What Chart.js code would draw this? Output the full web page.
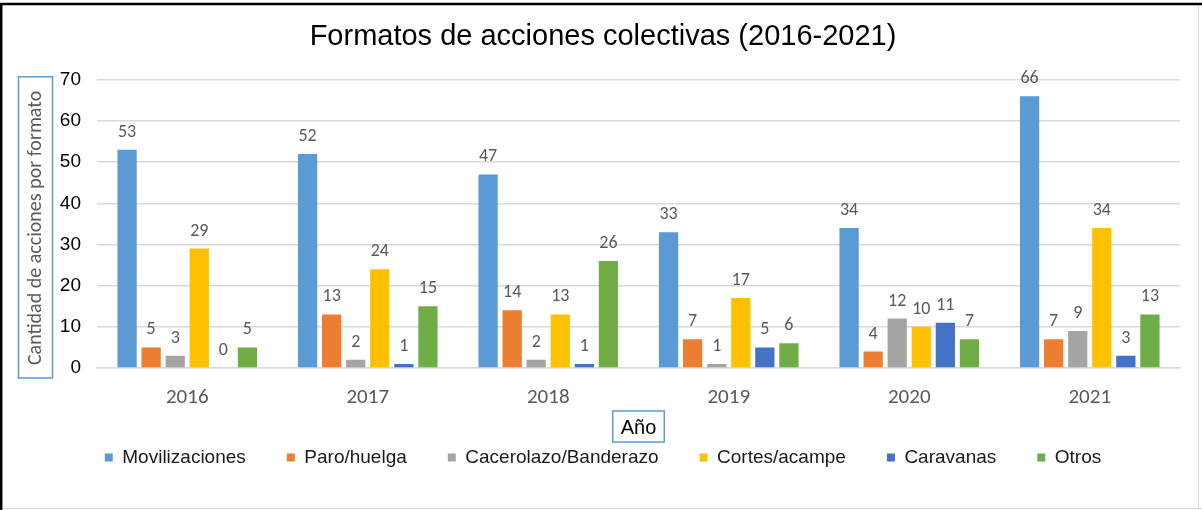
<!DOCTYPE html>
<html>
<head>
<meta charset="utf-8">
<script src="https://cdn.jsdelivr.net/npm/chart.js@4.4.1/dist/chart.umd.min.js"></script>
<style>
  html, body { margin: 0; padding: 0; background: #fff; }
  #wrap { width: 1202px; height: 510px; position: relative; }
</style>
</head>
<body>
<div id="wrap"><canvas id="chart"></canvas></div>
<script>
// datos
const years = ['2016', '2017', '2018', '2019', '2020', '2021'];
const movilizaciones = [53, 52, 47, 33, 34, 66];
const paroHuelga     = [5, 13, 14, 7, 4, 7];
const cacerolazo     = [3, 2, 2, 1, 12, 9];
const cortesAcampe   = [29, 24, 13, 17, 10, 34];
const caravanas      = [0, 1, 1, 5, 11, 3];
const otros          = [5, 15, 26, 6, 7, 13];

const seriesNames  = ['Movilizaciones', 'Paro/huelga', 'Cacerolazo/Banderazo', 'Cortes/acampe', 'Caravanas', 'Otros'];
const seriesColors = ['#5B9BD5', '#ED7D31', '#A5A5A5', '#FFC000', '#4472C4', '#70AD47'];
const seriesData   = [movilizaciones, paroHuelga, cacerolazo, cortesAcampe, caravanas, otros];
const yTicks = [0, 10, 20, 30, 40, 50, 60, 70];

const ARIAL = "'Liberation Sans', Arial, sans-serif";
const CALIBRI = "Carlito, Lato, sans-serif";

// etiquetas, títulos de ejes con recuadro y marco
const extras = {
  id: 'extras',
  beforeDraw(chart) {
    const c = chart.ctx;
    c.save();
    c.fillStyle = '#fff';
    c.fillRect(0, 0, chart.width, chart.height);
    c.restore();
  },
  afterDatasetsDraw(chart) {
    const c = chart.ctx;
    c.save();
    c.font = '18px ' + CALIBRI;
    c.fillStyle = '#595959';
    c.textAlign = 'center';
    c.textBaseline = 'alphabetic';
    chart.data.datasets.forEach((ds, i) => {
      chart.getDatasetMeta(i).data.forEach((bar, j) => {
        c.fillText(String(ds.data[j]), bar.x, bar.y - 13);
      });
    });
    c.restore();
  },
  afterDraw(chart) {
    const c = chart.ctx, a = chart.chartArea;
    c.save();
    // título eje Y
    c.translate(36, (a.top + a.bottom) / 2 + 4);
    c.rotate(-Math.PI / 2);
    c.font = '20px ' + CALIBRI;
    c.fillStyle = '#595959';
    c.textAlign = 'center';
    c.textBaseline = 'middle';
    c.fillText('Cantidad de acciones por formato', 0, 0);
    c.restore();

    c.save();
    c.strokeStyle = '#5B9BD5';
    c.lineWidth = 1.5;
    c.strokeRect(18.5, a.top - 3, 34, a.bottom - a.top + 13);

    // título eje X
    const cx = (a.left + a.right) / 2;
    c.font = '20px ' + ARIAL;
    c.fillStyle = '#000';
    c.textAlign = 'center';
    c.textBaseline = 'middle';
    c.fillText('Año', cx, 428);
    const w = c.measureText('Año').width + 16;
    c.strokeRect(cx - w / 2, 411, w, 31);

    // marco exterior
    c.strokeStyle = '#d9d9d9';
    c.lineWidth = 1;
    c.beginPath();
    c.moveTo(1198.5, 4); c.lineTo(1198.5, 509);
    c.moveTo(0, 508.5); c.lineTo(1202, 508.5);
    c.stroke();
    c.strokeStyle = '#000';
    c.lineWidth = 2.5;
    c.beginPath();
    c.moveTo(0, 4); c.lineTo(1202, 4);
    c.moveTo(1.2, 4); c.lineTo(1.2, 510);
    c.stroke();
    c.restore();
  }
};

const chart = new Chart(document.getElementById('chart'), {
  type: 'bar',
  data: {
    labels: years,
    datasets: seriesNames.map((n, i) => ({
      label: n,
      data: seriesData[i],
      backgroundColor: seriesColors[i],
      borderWidth: 0,
      categoryPercentage: 0.8,
      barPercentage: 0.8
    }))
  },
  options: {
    responsive: true,
    maintainAspectRatio: false,
    animation: false,
    layout: { padding: { left: 26, right: 22, top: 0, bottom: 33 } },
    plugins: {
      title: {
        display: true,
        text: 'Formatos de acciones colectivas (2016-2021)',
        color: '#000',
        font: { family: ARIAL, size: 29, weight: 'normal' },
        padding: { top: 20, bottom: 25 }
      },
      legend: {
        position: 'bottom',
        maxHeight: 100,
        labels: {
          boxWidth: 8, boxHeight: 8,
          padding: 41,
          color: '#1a1a1a',
          font: { family: ARIAL, size: 19 }
        }
      },
      tooltip: { enabled: false }
    },
    scales: {
      x: {
        grid: { display: false, drawTicks: false },
        border: { display: true, color: '#d9d9d9', width: 1.5 },
        ticks: { color: '#595959', font: { family: CALIBRI, size: 21 }, padding: 17 },
        afterFit(s) { s.height = 39; }
      },
      y: {
        min: 0, max: 70,
        afterBuildTicks(s) { s.ticks = yTicks.map(v => ({ value: v })); },
        grid: { color: '#d9d9d9', lineWidth: 1.5, drawTicks: false },
        border: { display: false },
        ticks: { color: '#000', font: { family: ARIAL, size: 19 }, padding: 16 },
        afterFit(s) { s.width = 71; }
      }
    }
  },
  plugins: [extras]
});
</script>
</body>
</html>
